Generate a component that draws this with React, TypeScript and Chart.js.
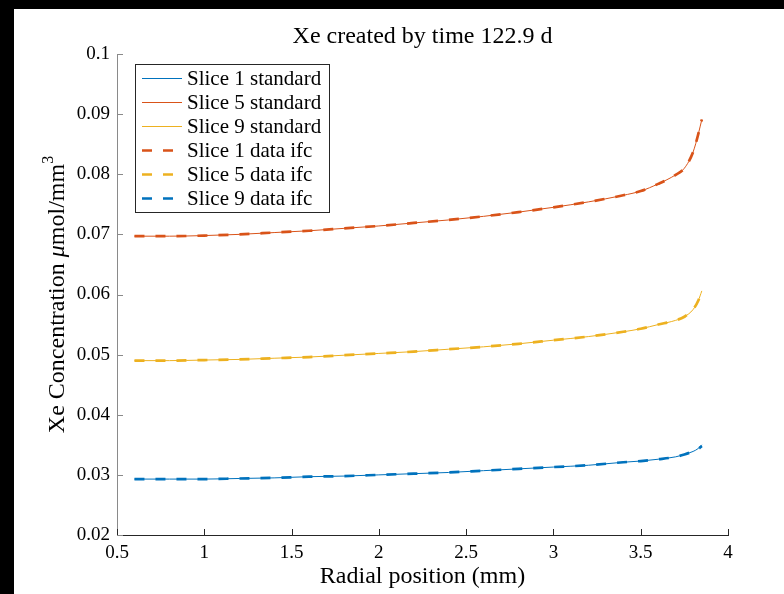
import React, { useEffect, useRef } from "react";
import { Chart, registerables } from "chart.js";

Chart.register(...registerables);

// Radial positions (mm)
const radius = [0.6, 0.8, 1.0, 1.2, 1.4, 1.6, 1.8, 2.0, 2.2, 2.4, 2.6, 2.8, 3.0, 3.2, 3.4, 3.5, 3.6, 3.7, 3.75, 3.8, 3.83, 3.85];

// Standard model results (µmol/mm^3)
const slice1Standard = [0.0293, 0.0293, 0.0293, 0.0294, 0.0295, 0.0297, 0.0298, 0.0300, 0.0302, 0.0304, 0.0307, 0.0310, 0.0313, 0.0316, 0.0321, 0.0323, 0.0326, 0.0330, 0.0334, 0.0339, 0.0344, 0.0350];
const slice5Standard = [0.0697, 0.0697, 0.0698, 0.0700, 0.0703, 0.0706, 0.0710, 0.0714, 0.0719, 0.0724, 0.0730, 0.0737, 0.0745, 0.0754, 0.0765, 0.0772, 0.0784, 0.0799, 0.0810, 0.0837, 0.0867, 0.0891];
const slice9Standard = [0.0490, 0.0490, 0.0491, 0.0492, 0.0494, 0.0496, 0.0499, 0.0502, 0.0505, 0.0509, 0.0513, 0.0518, 0.0524, 0.0530, 0.0538, 0.0543, 0.0550, 0.0557, 0.0563, 0.0575, 0.0590, 0.0606];

// Data ifc results
const slice1Ifc = [0.0697, 0.0697, 0.0698, 0.0700, 0.0703, 0.0706, 0.0710, 0.0714, 0.0719, 0.0724, 0.0730, 0.0737, 0.0745, 0.0754, 0.0765, 0.0772, 0.0784, 0.0799, 0.0810, 0.0837, 0.0867, 0.0891];
const slice5Ifc = [0.0490, 0.0490, 0.0491, 0.0492, 0.0494, 0.0496, 0.0499, 0.0502, 0.0505, 0.0509, 0.0513, 0.0518, 0.0524, 0.0530, 0.0538, 0.0543, 0.0550, 0.0557, 0.0563, 0.0575, 0.0590, 0.0606];
const slice9Ifc = [0.0293, 0.0293, 0.0293, 0.0294, 0.0295, 0.0297, 0.0298, 0.0300, 0.0302, 0.0304, 0.0307, 0.0310, 0.0313, 0.0316, 0.0321, 0.0323, 0.0326, 0.0330, 0.0334, 0.0339, 0.0343, 0.0348];

const seriesLabels = ["Slice 1 standard", "Slice 5 standard", "Slice 9 standard", "Slice 1 data ifc", "Slice 5 data ifc", "Slice 9 data ifc"];
const titleText = "Xe created by time 122.9 d";
const xTitle = "Radial position (mm)";

const BLUE = "#0072BD";
const ORANGE = "#D95319";
const YELLOW = "#EDB120";
const SERIF = "'Liberation Serif', 'DejaVu Serif', serif";

const fmt = (v: number) => String(parseFloat(Number(v).toFixed(3)));

const toXY = (ys: number[]) => ys.map((y, i) => ({ x: radius[i], y }));

const decorPlugin = {
  id: "decor",
  afterDraw(chart: any) {
    const { ctx, chartArea, scales } = chart;
    const xs = scales.x;
    const ys = scales.y;
    ctx.save();
    // inward ticks
    ctx.lineWidth = 1;
    ctx.strokeStyle = "#8a8a8a";
    ys.ticks.forEach((t: any) => {
      const py = Math.round(ys.getPixelForValue(t.value)) + 0.5;
      ctx.beginPath();
      ctx.moveTo(chartArea.left, py);
      ctx.lineTo(chartArea.left + 6, py);
      ctx.stroke();
    });
    ctx.strokeStyle = "#262626";
    xs.ticks.forEach((t: any) => {
      const px = Math.round(xs.getPixelForValue(t.value)) + 0.5;
      ctx.beginPath();
      ctx.moveTo(px, chartArea.bottom);
      ctx.lineTo(px, chartArea.bottom - 6);
      ctx.stroke();
    });

    // title
    ctx.fillStyle = "#000";
    ctx.textAlign = "center";
    ctx.textBaseline = "middle";
    const cx = (chartArea.left + chartArea.right) / 2;
    ctx.font = `24px ${SERIF}`;
    ctx.fillText(titleText, cx, 28);
    // x title
    ctx.font = `24px ${SERIF}`;
    ctx.fillText(xTitle, cx, 568);

    // y title with italic mu and superscript 3
    const parts = [
      { t: "Xe Concentration ", f: `24px ${SERIF}`, dy: 0 },
      { t: "\u03BC", f: `italic 24px ${SERIF}`, dy: 0 },
      { t: "mol/mm", f: `24px ${SERIF}`, dy: 0 },
      { t: "3", f: `16px ${SERIF}`, dy: -9 },
    ];
    let total = 0;
    parts.forEach((p) => {
      ctx.font = p.f;
      total += ctx.measureText(p.t).width;
    });
    ctx.translate(44, (chartArea.top + chartArea.bottom) / 2);
    ctx.rotate(-Math.PI / 2);
    ctx.textAlign = "left";
    let pos = -total / 2;
    parts.forEach((p) => {
      ctx.font = p.f;
      ctx.fillText(p.t, pos, p.dy);
      pos += ctx.measureText(p.t).width;
    });
    ctx.restore();

    // legend
    ctx.save();
    const bx = chartArea.left + 18;
    const by = chartArea.top + 10;
    const bw = 194;
    const bh = 148;
    ctx.fillStyle = "#fff";
    ctx.fillRect(bx, by, bw, bh);
    ctx.strokeStyle = "#262626";
    ctx.lineWidth = 1;
    ctx.strokeRect(bx + 0.5, by + 0.5, bw, bh);
    const datasets = chart.data.datasets;
    ctx.font = `21px ${SERIF}`;
    ctx.textAlign = "left";
    ctx.textBaseline = "middle";
    seriesLabels.forEach((lab, i) => {
      const ds = datasets[i];
      const ry = by + 14 + i * 24;
      ctx.strokeStyle = ds.borderColor;
      ctx.lineWidth = ds.borderWidth;
      ctx.setLineDash(ds.borderDash || []);
      ctx.beginPath();
      ctx.moveTo(bx + 7, ry + 0.5);
      ctx.lineTo(bx + 47, ry + 0.5);
      ctx.stroke();
      ctx.setLineDash([]);
      ctx.fillStyle = "#000";
      ctx.fillText(lab, bx + 52, ry + 1);
    });
    ctx.restore();
  },
};

export default function App() {
  const ref = useRef<HTMLCanvasElement | null>(null);

  useEffect(() => {
    if (!ref.current) return;
    const solid = (label: string, data: number[], color: string) => ({
      label,
      data: toXY(data),
      borderColor: color,
      backgroundColor: color,
      borderWidth: 1,
      pointRadius: 0,
      cubicInterpolationMode: "monotone" as const,
      order: 1,
    });
    const dashed = (label: string, data: number[], color: string) => ({
      label,
      data: toXY(data),
      borderColor: color,
      backgroundColor: color,
      borderWidth: 2.7,
      borderDash: [10, 11],
      pointRadius: 0,
      cubicInterpolationMode: "monotone" as const,
      order: 0,
    });
    const chart = new Chart(ref.current, {
      type: "line",
      data: {
        datasets: [
          solid(seriesLabels[0], slice1Standard, BLUE),
          solid(seriesLabels[1], slice5Standard, ORANGE),
          solid(seriesLabels[2], slice9Standard, YELLOW),
          dashed(seriesLabels[3], slice1Ifc, ORANGE),
          dashed(seriesLabels[4], slice5Ifc, YELLOW),
          dashed(seriesLabels[5], slice9Ifc, BLUE),
        ] as any,
      },
      options: {
        animation: false,
        responsive: false,
        maintainAspectRatio: false,
        layout: { padding: { top: 45, right: 56, left: 0, bottom: 0 } },
        plugins: {
          legend: { display: false },
          title: { display: false },
          tooltip: { enabled: false },
        },
        scales: {
          x: {
            type: "linear",
            min: 0.5,
            max: 4,
            afterFit: (s: any) => {
              s.height = 59;
            },
            ticks: {
              stepSize: 0.5,
              callback: (v: any) => fmt(v),
              font: { family: SERIF, size: 19 },
              color: "#000",
              padding: 7,
              maxRotation: 0,
            },
            grid: { display: true, drawOnChartArea: false, drawTicks: false },
            border: { display: true, color: "#262626", width: 1 },
          },
          y: {
            type: "linear",
            min: 0.02,
            max: 0.1,
            afterFit: (s: any) => {
              s.width = 103;
            },
            ticks: {
              stepSize: 0.01,
              callback: (v: any) => fmt(v),
              font: { family: SERIF, size: 19 },
              color: "#000",
              padding: 7,
            },
            grid: { display: true, drawOnChartArea: false, drawTicks: false },
            border: { display: true, color: "#8a8a8a", width: 1 },
          },
        },
      },
      plugins: [decorPlugin],
    });
    return () => chart.destroy();
  }, []);

  return (
    <div style={{ position: "fixed", inset: 0, background: "#000" }}>
      <div style={{ position: "absolute", left: 14, top: 9, width: 770, height: 585, background: "#fff" }}>
        <canvas ref={ref} width={770} height={585} style={{ display: "block", width: 770, height: 585 }} />
      </div>
    </div>
  );
}
